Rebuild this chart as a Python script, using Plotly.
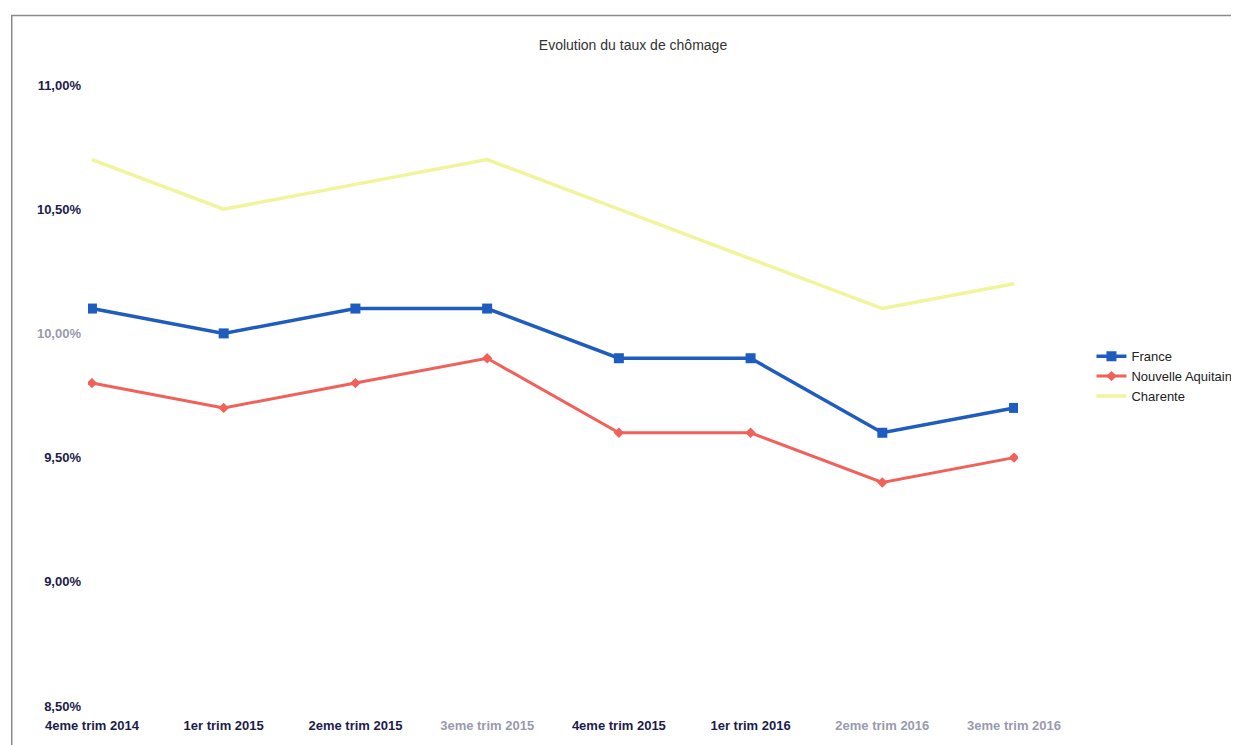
import plotly.graph_objects as go

# trimestres
trimestres = ["4eme trim 2014", "1er trim 2015", "2eme trim 2015", "3eme trim 2015",
              "4eme trim 2015", "1er trim 2016", "2eme trim 2016", "3eme trim 2016"]

# taux de chomage (%)
france = [10.1, 10.0, 10.1, 10.1, 9.9, 9.9, 9.6, 9.7]
nouvelle_aquitaine = [9.8, 9.7, 9.8, 9.9, 9.6, 9.6, 9.4, 9.5]
charente = [10.7, 10.5, 10.6, 10.7, 10.5, 10.3, 10.1, 10.2]

y_ticks = [8.5, 9.0, 9.5, 10.0, 10.5, 11.0]
y_ticktext = ["8,50%", "9,00%", "9,50%", "10,00%", "10,50%", "11,00%"]

# labels that came out washed-out on the scanned original
faded_x = ["3eme trim 2015", "2eme trim 2016", "3eme trim 2016"]
faded_y = ["10,00%"]

def fade(labels, faded):
    return ['<span style="color:#9a9aae">' + t + '</span>' if t in faded else t for t in labels]

x_idx = list(range(len(trimestres)))

fig = go.Figure()

fig.add_trace(go.Scatter(x = x_idx, y = france, name = "France", mode = "lines+markers",
                         line = dict(color = "#1f5cbf", width = 3.5),
                         marker = dict(symbol = "square", size = 10, color = "#1f5cbf")))

fig.add_trace(go.Scatter(x = x_idx, y = nouvelle_aquitaine, name = "Nouvelle Aquitaine", mode = "lines+markers",
                         line = dict(color = "#f2605a", width = 3),
                         marker = dict(symbol = "diamond", size = 8, color = "#f2605a")))

fig.add_trace(go.Scatter(x = x_idx, y = charente, name = "Charente", mode = "lines",
                         line = dict(color = "#f1f49a", width = 3.5)))

# page body has an 8px margin; the figure is wider than the window so the
# legend runs off the right edge like in the original (and doesn't push margins)
fig.update_layout(
    width = 1290, height = 737,
    margin = dict(l = 80, r = 280, t = 77, b = 35),
    paper_bgcolor = "white", plot_bgcolor = "white",
    font = dict(family = "Liberation Sans, Arial, sans-serif", size = 13, color = "#1c1c3c"),
    title = dict(text = "Evolution du taux de chômage", x = 0.4845, xanchor = "center",
                 y = 0.95, yanchor = "middle", font = dict(size = 14, color = "#333333")),
    legend = dict(x = 1.079, y = 0.531, xanchor = "left", yanchor = "middle",
                  font = dict(size = 13, color = "#222222"), bgcolor = "rgba(0,0,0,0)",
                  itemwidth = 30, tracegroupgap = 0),
    shapes = [dict(type = "rect", xref = "paper", yref = "paper",
                   x0 = -0.082, x1 = 1.35, y0 = -0.2, y1 = 1.112,
                   line = dict(color = "#8a8a8a", width = 1.5))],
)

fig.update_xaxes(tickmode = "array", tickvals = x_idx, ticktext = fade(trimestres, faded_x),
                 range = [-0.03, 7.03], showgrid = False, zeroline = False,
                 showline = False, ticks = "", ticklabelstandoff = 10,
                 tickfont = dict(size = 13, color = "#1c1c4c", weight = "bold"))

fig.update_yaxes(tickmode = "array", tickvals = y_ticks, ticktext = fade(y_ticktext, faded_y),
                 range = [8.5, 11.0], showgrid = False, zeroline = False,
                 showline = False, ticks = "", ticklabelstandoff = 6,
                 tickfont = dict(size = 13, color = "#1c1c4c", weight = "bold"))

fig.write_html("out.html")
